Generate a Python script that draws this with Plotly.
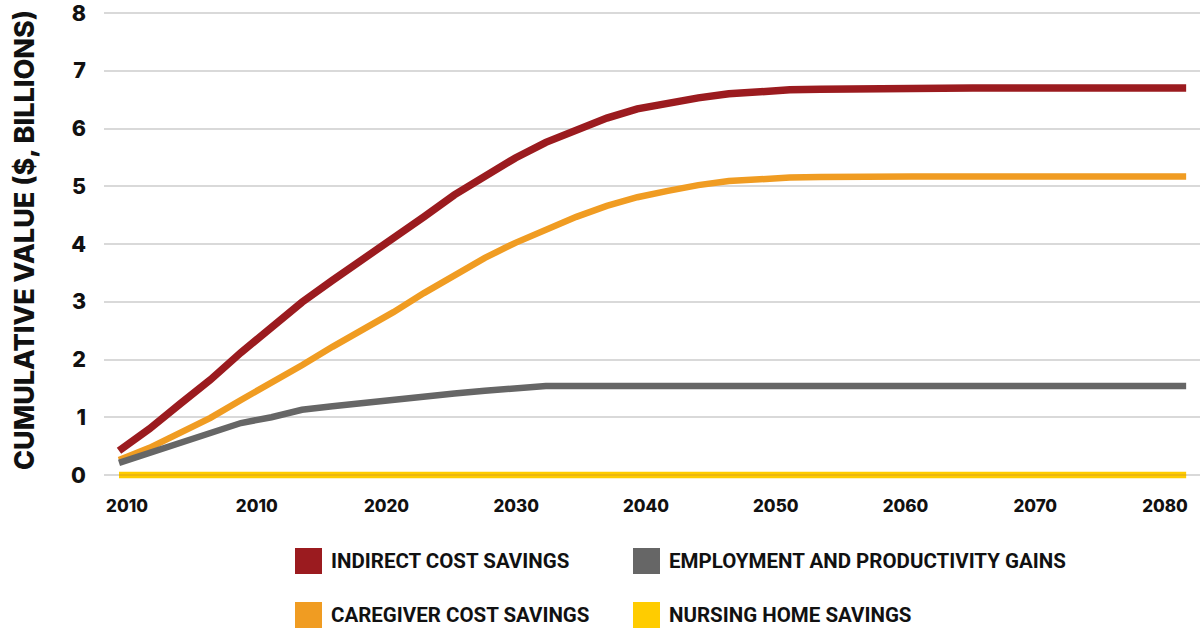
import plotly.graph_objects as go

# ---- data ----
periods = list(range(36))  # evenly spaced observation points along the x axis

indirect_cost = [0.42, 0.80, 1.23, 1.65, 2.12, 2.55, 2.99, 3.37, 3.73, 4.10,
                 4.47, 4.85, 5.17, 5.49, 5.76, 5.98, 6.18, 6.34, 6.44, 6.53,
                 6.60, 6.64, 6.67, 6.68, 6.69, 6.69, 6.70, 6.70, 6.70, 6.70,
                 6.70, 6.70, 6.70, 6.70, 6.70, 6.70]
employment = [0.21, 0.38, 0.55, 0.73, 0.90, 1.00, 1.13, 1.19, 1.25, 1.31,
              1.35, 1.41, 1.46, 1.51, 1.54, 1.54, 1.54, 1.54, 1.54, 1.54,
              1.54, 1.54, 1.54, 1.54, 1.54, 1.54, 1.54, 1.54, 1.54, 1.54,
              1.54, 1.54, 1.54, 1.54, 1.54, 1.54]
caregiver = [0.26, 0.47, 0.73, 0.99, 1.30, 1.59, 1.90, 2.22, 2.51, 2.82,
             3.15, 3.46, 3.76, 4.02, 4.26, 4.47, 4.66, 4.81, 4.92, 5.02,
             5.09, 5.13, 5.15, 5.16, 5.17, 5.17, 5.17, 5.17, 5.17, 5.17,
             5.17, 5.17, 5.17, 5.17, 5.17, 5.17]
nursing_home = [0, 0, 0, 0, 0, 0, 0, 0, 0, 0, 0, 0, 0, 0, 0, 0, 0, 0,
                0, 0, 0, 0, 0, 0, 0, 0, 0, 0, 0, 0, 0, 0, 0, 0, 0, 0]

x_tick_labels = ["2010", "2010", "2020", "2030", "2040", "2050", "2060", "2070", "2080"]
y_tick_values = [0, 1, 2, 3, 4, 5, 6, 7, 8]

series_names = ["INDIRECT COST SAVINGS", "EMPLOYMENT AND PRODUCTIVITY GAINS",
                "CAREGIVER COST SAVINGS", "NURSING HOME SAVINGS"]
series_colors = ["#9B1B1F", "#666666", "#F09C22", "#FFCC00"]

# ---- layout constants ----
W, H = 1200, 628
ML, MR, MT, MB = 104, 0, 0, 148
plot_w = W - ML - MR
plot_h = H - MT - MB
px_per_step = 30.49
x_first_px = 119  # pixel of first observation
x_range = [(ML - x_first_px) / px_per_step, (W - MR - x_first_px) / px_per_step]
px_per_unit = 57.75
y_range = [-(480 - 475) / px_per_unit, 8 + 13 / px_per_unit]
tick_positions = [(127 - x_first_px) / px_per_step + k * 129.75 / px_per_step
                  for k in range(len(x_tick_labels))]

fig = go.Figure()

def add_line(y, color, width, name):
    fig.add_trace(go.Scatter(x=periods, y=y, mode="lines", name=name,
                             line=dict(color=color, width=width, shape="linear"),
                             showlegend=False, hoverinfo="skip"))

add_line(nursing_home, series_colors[3], 6.5, series_names[3])
add_line(nursing_home, "#D9A21C", 1.2, series_names[3])
add_line(indirect_cost, series_colors[0], 7.5, series_names[0])
add_line(caregiver, series_colors[2], 6.5, series_names[2])
add_line(employment, series_colors[1], 6.5, series_names[1])

HEAVY = "Inter"

fig.update_layout(
    width=W, height=H,
    margin=dict(l=ML, r=MR, t=MT, b=MB, pad=0),
    paper_bgcolor="white", plot_bgcolor="white",
    showlegend=False,
    xaxis=dict(range=x_range, tickvals=tick_positions, ticktext=x_tick_labels,
               showgrid=False, zeroline=False, showline=False, ticks="",
               tickfont=dict(family=HEAVY, size=17, color="#111111", weight=800),
               ticklabelstandoff=14, ticklabeloverflow="allow", fixedrange=True),
    yaxis=dict(range=y_range, tickvals=y_tick_values,
               ticktext=[str(v) for v in y_tick_values],
               showgrid=True, gridcolor="#D9D9D9", gridwidth=1.6,
               zeroline=False, showline=False, ticks="",
               tickfont=dict(family=HEAVY, size=21.5, color="#111111", weight=800),
               ticklabelstandoff=17, ticklabeloverflow="allow", fixedrange=True),
)

# y axis title
fig.add_annotation(text="CUMULATIVE VALUE ($, BILLIONS)", textangle=-90,
                   xref="paper", yref="paper",
                   x=(24 - ML) / plot_w, y=(plot_h - 240) / plot_h,
                   xanchor="center", yanchor="middle", showarrow=False,
                   font=dict(family=HEAVY, size=27, color="#111111", weight=800))

# manual legend (square swatches + labels)
legend_cols_px = [295, 633]
legend_rows_px = [561, 615]
for i in range(len(series_names)):
    cx = legend_cols_px[i % 2]
    cy = legend_rows_px[i // 2]
    x0 = (cx - ML) / plot_w
    x1 = (cx + 27 - ML) / plot_w
    y0 = (plot_h - (cy + 13)) / plot_h
    y1 = (plot_h - (cy - 13)) / plot_h
    fig.add_shape(type="rect", xref="paper", yref="paper",
                  x0=x0, x1=x1, y0=y0, y1=y1,
                  fillcolor=series_colors[i], line=dict(width=0))
    fig.add_annotation(text=series_names[i], xref="paper", yref="paper",
                       x=(cx + 34 - ML) / plot_w, y=(plot_h - cy) / plot_h,
                       xanchor="left", yanchor="middle", showarrow=False,
                       font=dict(family="Roboto", size=20.5,
                                 color="#111111", weight=700))

fig.write_html("out.html")
